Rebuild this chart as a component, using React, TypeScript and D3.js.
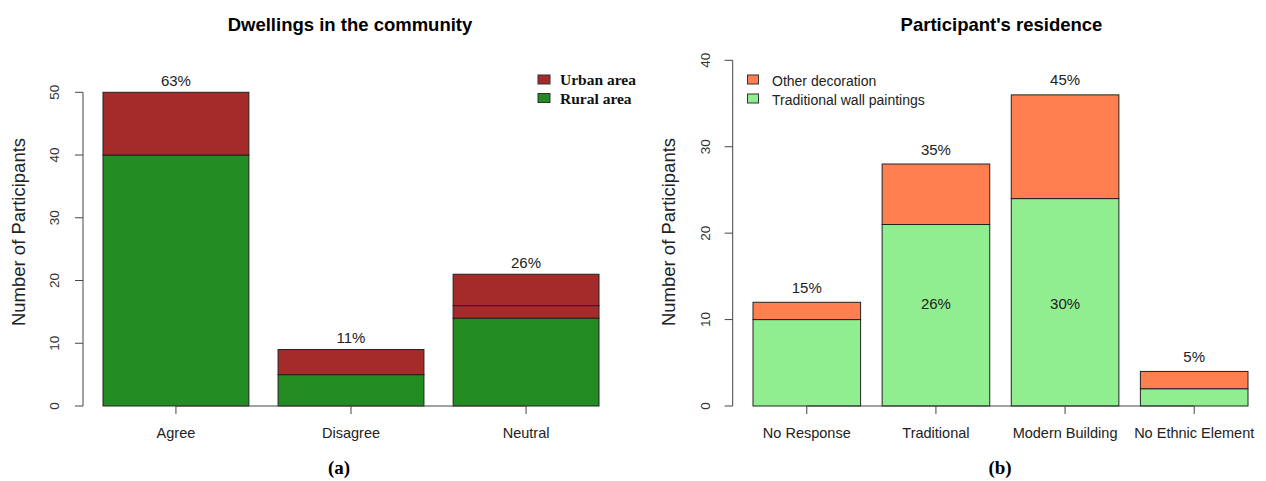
import React from "react";
import * as d3 from "d3";

// Left chart data
const leftCategories = ["Agree", "Disagree", "Neutral"];
const leftRural = [40, 5, 14];
const leftUrbanA = [10, 4, 2];
const leftUrbanB = [0, 0, 5];
const leftPct = ["63%", "11%", "26%"];
const leftTicks = [0, 10, 20, 30, 40, 50];

// Right chart data
const rightCategories = ["No Response", "Traditional", "Modern Building", "No Ethnic Element"];
const rightTraditional = [10, 21, 24, 2];
const rightOther = [2, 7, 12, 2];
const rightPctTop = ["15%", "35%", "45%", "5%"];
const rightPctInner = ["", "26%", "30%", ""];
const rightTicks = [0, 10, 20, 30, 40];

const SANS = "'Liberation Sans', Arial, sans-serif";
const SERIF = "'Liberation Serif', 'Times New Roman', serif";
const AXIS = "#444";
const INNER_LABEL_Y = 12;

type Seg = { key: string; color: string; values: number[] };

function Panel(props: {
  categories: string[];
  segs: Seg[];
  xRange: [number, number];
  yMax: number;
  yTop: number;
  ticks: number[];
  axisX: number;
  topLabels: string[];
  topOffset: number;
  innerLabels?: string[];
  title: string;
  titleX: number;
  yLabelX: number;
  tickLabelX: number;
  caption: string;
  captionX: number;
}) {
  const { categories, segs, xRange, yMax, yTop, ticks, axisX } = props;
  const y0 = 406;
  const x = d3.scaleBand<string>().domain(categories).range(xRange).paddingInner(0.2 / 1.2).paddingOuter(0);
  const y = d3.scaleLinear().domain([0, yMax]).range([y0, yTop]);
  const bw = x.bandwidth();
  const totals = categories.map((_, i) => segs.reduce((s, g) => s + g.values[i], 0));
  const firstC = x(categories[0])! + bw / 2;
  const lastC = x(categories[categories.length - 1])! + bw / 2;
  return (
    <g>
      <text x={props.titleX} y={31} textAnchor="middle" fontFamily={SANS} fontWeight="bold" fontSize={18.5} fill="#000">
        {props.title}
      </text>
      {categories.map((c, i) => {
        let cum = 0;
        return (
          <g key={c}>
            {segs.map((g) => {
              const v = g.values[i];
              const b = cum;
              cum += v;
              if (v <= 0) return null;
              return (
                <rect
                  key={g.key}
                  x={x(c)!}
                  y={y(b + v)}
                  width={bw}
                  height={y(b) - y(b + v)}
                  fill={g.color}
                  stroke="#222"
                  strokeWidth={1}
                />
              );
            })}
          </g>
        );
      })}
      {/* x axis */}
      <line x1={firstC} x2={lastC} y1={y0} y2={y0} stroke={AXIS} strokeWidth={1} />
      {categories.map((c, i) => (
        <g key={"xt" + c}>
          <line x1={x(c)! + bw / 2} x2={x(c)! + bw / 2} y1={y0} y2={y0 + 8} stroke={AXIS} />
          <text x={x(c)! + bw / 2} y={438} textAnchor="middle" fontFamily={SANS} fontSize={14.5} fill="#222">
            {c}
          </text>
          <text x={x(c)! + bw / 2} y={y(totals[i]) - props.topOffset} textAnchor="middle" fontFamily={SANS} fontSize={15} fill="#222">
            {props.topLabels[i]}
          </text>
          {props.innerLabels && props.innerLabels[i] ? (
            <text x={x(c)! + bw / 2} y={y(INNER_LABEL_Y) + 7} textAnchor="middle" fontFamily={SANS} fontSize={15} fill="#222">
              {props.innerLabels[i]}
            </text>
          ) : null}
        </g>
      ))}
      {/* y axis */}
      <line x1={axisX} x2={axisX} y1={y(ticks[0])} y2={y(ticks[ticks.length - 1])} stroke={AXIS} />
      {ticks.map((t) => (
        <g key={"yt" + t}>
          <line x1={axisX - 8} x2={axisX} y1={y(t)} y2={y(t)} stroke={AXIS} />
          <text
            transform={`translate(${props.tickLabelX},${y(t)}) rotate(-90)`}
            textAnchor="middle"
            dy="0.35em"
            fontFamily={SANS}
            fontSize={13.5}
            fill="#333"
          >
            {t}
          </text>
        </g>
      ))}
      <text
        transform={`translate(${props.yLabelX},232) rotate(-90)`}
        textAnchor="middle"
        dy="0.35em"
        fontFamily={SANS}
        fontSize={18.5}
        fill="#222"
      >
        Number of Participants
      </text>
      <text x={props.captionX} y={474} textAnchor="middle" fontFamily={SERIF} fontWeight="bold" fontSize={19} fill="#000">
        {props.caption}
      </text>
    </g>
  );
}

export default function App() {
  const leftSegs: Seg[] = [
    { key: "rural", color: "#228B22", values: leftRural },
    { key: "urbanA", color: "#A52A2A", values: leftUrbanA },
    { key: "urbanB", color: "#A52A2A", values: leftUrbanB },
  ];
  const rightSegs: Seg[] = [
    { key: "trad", color: "#90EE90", values: rightTraditional },
    { key: "other", color: "#FF7F50", values: rightOther },
  ];
  return (
    <svg width={1266} height={481} style={{ position: "absolute", left: 0, top: 0, background: "#fff" }}>
      <rect width={1266} height={481} fill="#fff" />
      <Panel
        categories={leftCategories}
        segs={leftSegs}
        xRange={[103, 599]}
        yMax={50}
        yTop={92.3}
        ticks={leftTicks}
        axisX={83}
        topLabels={leftPct}
        topOffset={6.5}
        title="Dwellings in the community"
        titleX={350}
        yLabelX={18.5}
        tickLabelX={54}
        caption="(a)"
        captionX={339}
      />
      <Panel
        categories={rightCategories}
        segs={rightSegs}
        xRange={[753, 1248]}
        yMax={40}
        yTop={60.3}
        ticks={rightTicks}
        axisX={732.7}
        topLabels={rightPctTop}
        topOffset={9.5}
        innerLabels={rightPctInner}
        title="Participant's residence"
        titleX={1001.5}
        yLabelX={668.5}
        tickLabelX={705}
        caption="(b)"
        captionX={1000}
      />
      {/* left legend */}
      <g fontFamily={SERIF} fontWeight="bold" fontSize={15.5} fill="#111">
        <rect x={538} y={75} width={12} height={9} fill="#A52A2A" stroke="#333" />
        <text x={560} y={85}>Urban area</text>
        <rect x={538} y={93.5} width={12} height={9} fill="#228B22" stroke="#333" />
        <text x={560} y={104}>Rural area</text>
      </g>
      {/* right legend */}
      <g fontFamily={SANS} fontSize={14} fill="#222">
        <rect x={747.5} y={75} width={11} height={9} fill="#FF7F50" stroke="#333" />
        <text x={772} y={85.5}>Other decoration</text>
        <rect x={747.5} y={94} width={11} height={9} fill="#90EE90" stroke="#333" />
        <text x={772} y={104.5}>Traditional wall paintings</text>
      </g>
    </svg>
  );
}
